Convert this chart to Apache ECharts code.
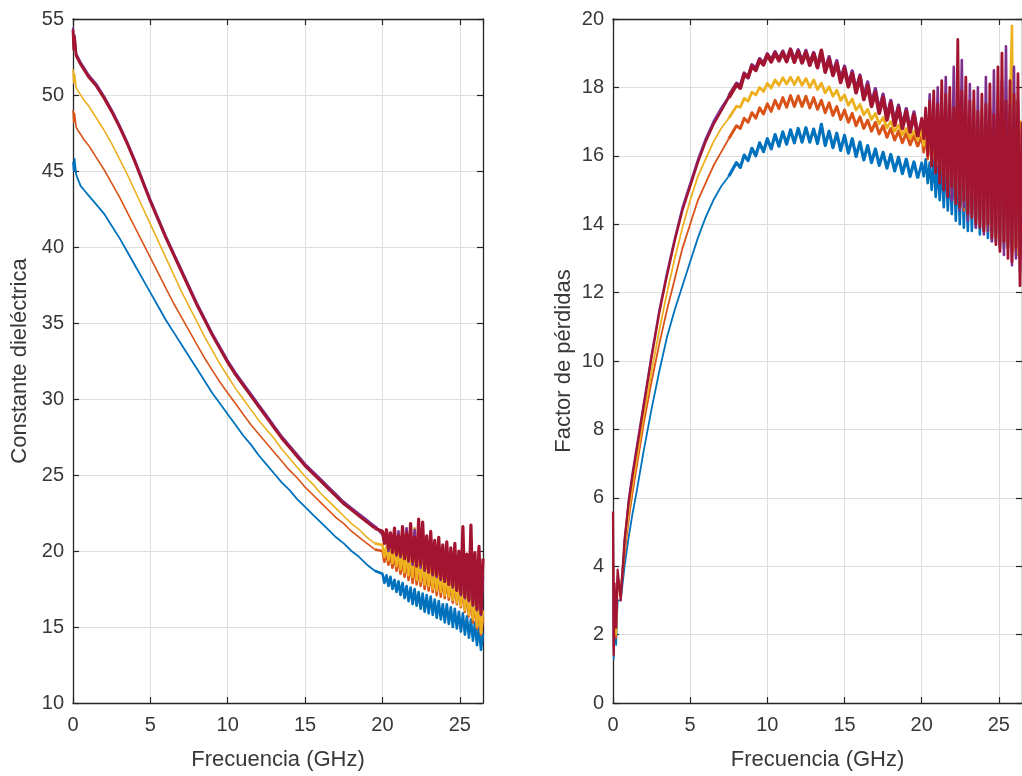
<!DOCTYPE html>
<html><head><meta charset="utf-8">
<script src="https://cdn.jsdelivr.net/npm/echarts@6/dist/echarts.min.js"></script>
<style>html,body{margin:0;padding:0;background:#fff}#c{width:1022px;height:776px}</style>
</head><body><div id="c"></div><script>
// ---------- frequency samples (GHz) ----------
const F_SMOOTH = [0,0.05,0.1,0.2,0.3,0.5,0.75,1,1.25,1.5,2,2.5,3,3.5,4,4.5,5,5.5,6,6.5,7,7.5,8,8.5,9,9.5,10,10.5,11,11.5,12,12.5,13,13.5,14,14.5,15,15.5,16,16.5,17,17.5,18,18.5,19,19.5];
const F_LOW = [0,0.05,0.1,0.2,0.3,0.5,0.75,1,1.25,1.5,2,2.5,3,3.5,4,4.5,5,5.5,6,6.5,7,7.5];
const F_MID = [8,8.25,8.5,8.75,9,9.25,9.5,9.75,10,10.25,10.5,10.75,11,11.25,11.5,11.75,12,12.25,12.5,12.75,13,13.25,13.5,13.75,14,14.25,14.5,14.75,15,15.25,15.5,15.75,16,16.25,16.5,16.75,17,17.25,17.5,17.75,18,18.25,18.5,18.75,19,19.25,19.5,19.75];
const F_NOISY = [20.00,20.13,20.26,20.39,20.52,20.65,20.78,20.91,21.04,21.17,21.30,21.43,21.56,21.69,21.82,21.95,22.08,22.21,22.34,22.47,22.60,22.73,22.86,22.99,23.12,23.25,23.38,23.51,23.64,23.77,23.90,24.03,24.16,24.29,24.42,24.55,24.68,24.81,24.94,25.07,25.20,25.33,25.46,25.59,25.72,25.85,25.98,26.11,26.24,26.37,26.50];

// ---------- tick values ----------
const X_TICKS = [0,5,10,15,20,25];
const Y_LEFT_TICKS = [10,15,20,25,30,35,40,45,50,55];
const Y_RIGHT_TICKS = [0,2,4,6,8,10,12,14,16,18,20];

// ---------- left: Constante dieléctrica ----------
const L_BLUE_S = [45.6,45.0,45.8,44.8,44.5,44.0,43.7,43.4,43.1,42.8,42.2,41.4,40.6,39.7,38.8,37.9,37.0,36.1,35.2,34.4,33.6,32.8,32.0,31.2,30.4,29.7,29.0,28.3,27.6,27.0,26.3,25.7,25.1,24.5,24.0,23.4,22.9,22.4,21.9,21.4,20.9,20.5,20.0,19.6,19.1,18.7];
const L_ORANGE_S = [49.0,48.2,48.8,47.9,47.7,47.4,47.0,46.7,46.3,45.9,45.1,44.2,43.3,42.3,41.3,40.3,39.3,38.3,37.3,36.3,35.4,34.5,33.6,32.7,31.9,31.1,30.4,29.7,29.0,28.3,27.7,27.1,26.5,25.9,25.3,24.8,24.2,23.7,23.2,22.7,22.2,21.8,21.3,20.9,20.5,20.1];
const L_YELLOW_S = [51.7,50.8,51.4,50.5,50.3,50.0,49.6,49.3,48.9,48.5,47.7,46.8,45.8,44.8,43.7,42.6,41.5,40.4,39.3,38.2,37.1,36.1,35.1,34.1,33.2,32.3,31.5,30.7,30.0,29.3,28.6,28.0,27.4,26.7,26.1,25.5,24.9,24.4,23.8,23.3,22.8,22.3,21.8,21.4,20.9,20.5];
const L_PURPLE_S = [54.45,53.15,53.95,52.75,52.55,52.15,51.75,51.35,51.05,50.75,49.95,49.05,48.05,46.95,45.75,44.45,43.15,41.95,40.75,39.65,38.55,37.45,36.35,35.35,34.35,33.45,32.55,31.75,31.05,30.35,29.65,28.95,28.25,27.55,26.95,26.35,25.75,25.25,24.75,24.25,23.75,23.25,22.85,22.45,22.05,21.65];
const L_RED_S = [54.3,53.0,53.8,52.6,52.4,52.0,51.6,51.2,50.9,50.6,49.8,48.9,47.9,46.8,45.6,44.3,43.0,41.8,40.6,39.5,38.4,37.3,36.2,35.2,34.2,33.3,32.4,31.6,30.9,30.2,29.5,28.8,28.1,27.4,26.8,26.2,25.6,25.1,24.6,24.1,23.6,23.1,22.7,22.3,21.9,21.5];

const L_BLUE_N = [18.5,17.9,18.4,17.7,18.3,17.5,18.1,17.3,18.0,17.1,17.9,16.9,17.7,16.7,17.6,16.5,17.5,16.4,17.3,16.2,17.2,16.0,17.1,15.9,17.0,15.8,16.8,15.6,16.7,15.5,16.5,15.3,16.5,15.2,16.3,15.0,16.2,14.9,16.0,14.7,15.9,14.5,15.7,14.3,15.5,14.1,15.3,13.8,15.0,13.5,14.6];
const L_ORANGE_N = [20.0,19.3,19.9,19.1,19.8,18.9,19.7,18.7,19.6,18.5,19.5,18.3,19.4,18.1,19.3,17.9,19.2,17.8,19.0,17.7,18.9,17.5,18.7,17.4,18.6,17.3,18.5,17.1,18.4,17.0,18.3,16.9,18.2,16.8,18.0,16.6,17.9,16.5,17.8,16.3,17.6,16.0,17.3,15.7,17.0,15.3,16.7,14.9,16.2,14.5,15.6];
const L_YELLOW_N = [20.4,19.6,20.3,19.4,20.5,19.2,20.2,19.0,20.1,18.8,20.0,18.6,20.0,18.4,19.8,18.3,21.5,18.1,19.6,18.0,19.5,17.8,19.3,17.7,19.2,17.5,19.0,17.4,18.9,17.3,18.8,17.1,18.7,17.0,18.5,16.8,18.4,16.6,18.2,16.4,18.0,16.1,17.8,15.8,17.5,15.5,17.1,15.0,16.7,14.6,16.1];
const L_PURPLE_N = [21.1,20.7,21.2,20.0,21.0,20.1,21.2,19.7,21.3,19.6,20.9,19.6,21.5,19.3,21.0,19.1,21.4,19.2,20.8,18.9,21.2,18.7,20.6,18.7,20.9,18.4,20.5,18.3,20.4,18.1,20.2,18.0,20.0,17.8,19.9,17.6,19.8,17.4,19.7,17.1,19.6,16.9,19.4,16.7,19.3,16.4,19.1,16.1,18.8,15.8,18.4];
const L_RED_N = [21.3,20.5,21.4,20.2,21.2,19.9,21.5,19.8,21.0,19.7,21.6,19.5,21.2,19.4,21.8,19.3,20.9,19.0,22.1,19.1,21.9,18.8,21.0,18.6,21.3,18.5,20.7,18.4,20.9,18.2,20.4,18.0,20.6,17.8,20.2,17.7,20.5,17.4,20.0,17.2,21.6,17.0,19.8,16.8,21.7,16.5,19.9,16.2,20.3,15.9,19.5];

// ---------- right: Factor de pérdidas ----------
const R_BLUE_L = [4.5,1.3,2.8,1.7,3.0,3.0,4.0,4.8,5.5,6.1,7.4,8.6,9.7,10.7,11.5,12.2,12.9,13.6,14.2,14.7,15.1,15.4];
const R_ORANGE_L = [5.0,1.5,3.0,1.9,3.4,3.2,4.3,5.3,6.1,6.8,8.2,9.4,10.5,11.5,12.4,13.3,14.0,14.7,15.2,15.7,16.1,16.5];
const R_YELLOW_L = [5.2,1.6,3.2,2.0,3.6,3.4,4.5,5.5,6.3,7.0,8.4,9.7,10.9,12.0,13.0,13.9,14.7,15.4,15.9,16.4,16.8,17.1];
const R_PURPLE_L = [5.4,1.6,3.3,2.4,3.7,3.2,4.7,5.9,6.7,7.4,8.8,10.2,11.5,12.6,13.6,14.5,15.2,15.9,16.5,17.0,17.4,17.75];
const R_RED_L = [5.6,1.4,3.5,2.2,3.9,3.0,4.8,5.8,6.6,7.3,8.7,10.1,11.4,12.5,13.5,14.4,15.1,15.8,16.4,16.9,17.3,17.7];

const R_BLUE_M = [15.80,15.66,16.02,15.86,16.22,16.00,16.38,16.12,16.50,16.20,16.62,16.28,16.70,16.34,16.76,16.38,16.80,16.40,16.82,16.40,16.78,16.36,16.92,16.30,16.72,16.24,16.66,16.16,16.60,16.08,16.50,15.98,16.40,15.88,16.30,15.80,16.20,15.72,16.10,15.64,16.04,15.56,15.96,15.48,15.90,15.40,15.82,15.34];
const R_ORANGE_M = [16.88,16.80,17.10,16.98,17.26,17.10,17.40,17.22,17.52,17.30,17.62,17.38,17.70,17.42,17.76,17.44,17.75,17.44,17.74,17.40,17.70,17.36,17.62,17.26,17.55,17.18,17.44,17.06,17.34,16.98,17.24,16.88,17.14,16.80,17.04,16.72,16.98,16.64,16.88,16.54,16.80,16.46,16.72,16.38,16.66,16.32,16.60,16.26];
const R_YELLOW_M = [17.45,17.42,17.68,17.60,17.86,17.78,18.00,17.88,18.12,17.98,18.22,18.06,18.28,18.10,18.30,18.08,18.30,18.06,18.26,18.00,18.22,17.94,18.12,17.84,18.02,17.74,17.92,17.62,17.78,17.48,17.66,17.34,17.50,17.20,17.36,17.06,17.24,16.94,17.12,16.82,17.00,16.72,16.90,16.62,16.80,16.52,16.72,16.45];
const R_PURPLE_M = [18.12,18.05,18.42,18.28,18.66,18.55,18.84,18.70,18.98,18.80,19.04,18.82,19.06,18.80,19.12,18.80,19.10,18.76,19.08,18.70,19.02,18.62,18.98,18.52,18.90,18.40,18.78,18.22,18.62,18.08,18.48,17.92,18.36,17.72,18.16,17.52,17.96,17.32,17.80,17.12,17.62,16.98,17.48,16.86,17.38,16.76,17.28,16.62];
const R_RED_M = [18.08,17.98,18.38,18.30,18.62,18.50,18.80,18.66,18.95,18.75,19.00,18.78,19.02,18.76,19.10,18.74,19.05,18.72,19.02,18.65,18.98,18.58,19.08,18.45,18.82,18.35,18.70,18.15,18.55,18.02,18.40,17.85,18.30,17.65,18.05,17.45,17.85,17.25,17.70,17.05,17.55,16.90,17.40,16.80,17.30,16.70,17.20,16.55];

const R_BLUE_N = [15.8,15.4,15.9,15.2,15.8,15.0,15.9,14.8,15.7,14.7,15.8,14.5,15.9,14.4,15.6,14.3,16.0,14.1,15.7,14.0,16.1,13.9,15.8,13.8,16.2,13.8,15.9,13.9,16.4,13.7,16.0,13.8,16.6,13.6,16.2,13.5,16.8,13.5,16.4,13.4,17.0,13.3,16.6,13.3,17.2,13.2,16.8,13.2,17.4,13.1,16.4];
const R_ORANGE_N = [16.6,16.1,16.7,15.9,16.8,15.7,16.9,15.5,17.0,15.3,16.9,15.1,17.1,14.9,17.0,14.8,17.2,14.6,17.0,14.5,17.1,14.4,17.0,14.3,17.2,14.2,16.9,14.1,17.1,14.0,16.9,13.9,17.0,13.8,16.8,13.7,17.0,13.6,16.8,13.5,17.1,13.4,16.9,13.3,17.0,13.2,16.8,13.1,17.2,13.0,16.5];
const R_YELLOW_N = [16.8,16.3,16.9,16.0,17.0,15.8,17.1,15.6,17.2,15.4,17.0,15.2,17.4,15.0,17.1,14.9,17.6,14.8,17.3,14.6,17.5,14.5,17.4,14.4,17.2,14.3,17.6,14.1,17.1,14.0,17.4,13.9,17.0,13.8,17.5,13.7,17.2,13.6,17.8,13.5,17.3,13.4,18.0,13.3,17.4,19.8,13.2,17.6,13.1,17.0,13.4];
const R_PURPLE_N = [17.0,16.7,17.2,16.2,17.8,15.9,17.5,15.6,18.0,15.3,17.6,15.1,18.3,15.0,17.5,14.7,18.6,14.9,17.7,14.4,18.8,14.5,17.6,14.1,18.1,14.3,17.4,13.9,18.0,14.1,17.2,13.7,18.3,13.8,17.4,13.5,18.5,13.7,17.3,13.3,18.2,13.1,19.2,13.4,17.5,12.8,18.6,13.0,17.6,12.6,16.8];
const R_RED_N = [17.1,16.5,17.4,16.0,17.6,15.7,17.9,15.5,17.5,15.2,18.2,15.0,17.8,14.8,18.0,15.1,17.4,14.6,19.4,14.5,17.9,14.7,18.3,14.3,17.6,14.2,17.9,14.0,17.3,13.9,17.8,13.8,17.5,14.0,18.1,13.6,17.2,13.4,18.6,13.2,19.0,13.5,17.6,13.0,18.2,12.9,17.8,13.3,18.4,12.2,17.0];

// ---------- build ----------
function pairs(xs, ys){ return xs.map((x,i)=>[x, ys[i]]); }
const COLORS = {blue:'#0072BD', orange:'#D95319', yellow:'#EDB120', purple:'#7E2F8E', red:'#A2142F'};

// [colour, [[freqs, values, lineWidth], ...segments]]
const LEFT = [
  ['blue',   [[F_SMOOTH, L_BLUE_S, 1.8],   [F_NOISY, L_BLUE_N, 2.6]]],
  ['orange', [[F_SMOOTH, L_ORANGE_S, 1.6], [F_NOISY, L_ORANGE_N, 2.6]]],
  ['yellow', [[F_SMOOTH, L_YELLOW_S, 1.6], [F_NOISY, L_YELLOW_N, 2.6]]],
  ['purple', [[F_SMOOTH, L_PURPLE_S, 2],   [F_NOISY, L_PURPLE_N, 2.6]]],
  ['red',    [[F_SMOOTH, L_RED_S, 2.8],    [F_NOISY, L_RED_N, 3.2]]]
];
const RIGHT = [
  ['blue',   [[F_LOW, R_BLUE_L, 1.8],   [F_MID, R_BLUE_M, 3.2],   [F_NOISY, R_BLUE_N, 2.6]]],
  ['orange', [[F_LOW, R_ORANGE_L, 1.8], [F_MID, R_ORANGE_M, 3.0], [F_NOISY, R_ORANGE_N, 2.6]]],
  ['yellow', [[F_LOW, R_YELLOW_L, 1.8], [F_MID, R_YELLOW_M, 2.8], [F_NOISY, R_YELLOW_N, 2.6]]],
  ['purple', [[F_LOW, R_PURPLE_L, 2.0], [F_MID, R_PURPLE_M, 3.4], [F_NOISY, R_PURPLE_N, 2.6]]],
  ['red',    [[F_LOW, R_RED_L, 2.2],    [F_MID, R_RED_M, 3.8],    [F_NOISY, R_RED_N, 2.8]]]
];

const series = [];
function addSeries(list, xi, yi){
  list.forEach(([c, segs])=>{
    let prev = null;
    segs.forEach(([xs, ys, w])=>{
      const data = pairs(xs, ys);
      if (prev) data.unshift(prev);
      prev = data[data.length-1];
      series.push({type:'line', xAxisIndex:xi, yAxisIndex:yi, data:data,
        showSymbol:false, symbol:'none', silent:true,
        lineStyle:{color:COLORS[c], width:w, join:'round'}, itemStyle:{color:COLORS[c]}});
    });
  });
}
addSeries(LEFT, 0, 0);
addSeries(RIGHT, 2, 2);

const AX = '#262626';
const TXT = '#383838';
const FONT = 'Liberation Sans, Arial, Helvetica, sans-serif';
function mainX(gi){
  return {gridIndex:gi, type:'value', min:0, max:26.5, interval:5, position:'bottom',
    axisLine:{show:true, onZero:false, lineStyle:{color:AX, width:1.3}},
    axisTick:{show:true, inside:true, length:6, lineStyle:{color:AX, width:1.2}},
    axisLabel:{fontSize:20, color:TXT, fontFamily:FONT, margin:12, showMaxLabel:false,
      formatter:v=>X_TICKS.includes(v)?String(v):''},
    splitLine:{show:true, lineStyle:{color:'#dedede', width:1}},
    name:'Frecuencia (GHz)', nameLocation:'middle', nameGap:46,
    nameTextStyle:{fontSize:22, color:TXT, fontFamily:FONT}};
}
function topX(gi){
  return {gridIndex:gi, type:'value', min:0, max:26.5, interval:5, position:'top',
    axisLine:{show:true, onZero:false, lineStyle:{color:AX, width:1.3}},
    axisTick:{show:true, inside:true, length:6, lineStyle:{color:AX, width:1.2}},
    axisLabel:{show:false}, splitLine:{show:false}};
}
function mainY(gi, min, max, interval, ticks, name, gap){
  return {gridIndex:gi, type:'value', min:min, max:max, interval:interval, position:'left',
    axisLine:{show:true, onZero:false, lineStyle:{color:AX, width:1.3}},
    axisTick:{show:true, inside:true, length:6, lineStyle:{color:AX, width:1.2}},
    axisLabel:{fontSize:20, color:TXT, fontFamily:FONT, margin:9,
      formatter:v=>ticks.includes(v)?String(v):''},
    splitLine:{show:true, lineStyle:{color:'#dedede', width:1}},
    name:name, nameLocation:'middle', nameGap:gap,
    nameTextStyle:{fontSize:22, color:TXT, fontFamily:FONT}};
}
function rightY(gi, min, max, interval){
  return {gridIndex:gi, type:'value', min:min, max:max, interval:interval, position:'right',
    axisLine:{show:true, onZero:false, lineStyle:{color:AX, width:1.3}},
    axisTick:{show:true, inside:true, length:6, lineStyle:{color:AX, width:1.2}},
    axisLabel:{show:false}, splitLine:{show:false}};
}

const chart = echarts.init(document.getElementById('c'), null, {renderer:'canvas'});
chart.setOption({
  animation:false,
  backgroundColor:'#ffffff',
  grid:[
    {left:73, top:19, width:410, height:685},
    {left:613, top:19, width:410, height:686}
  ],
  xAxis:[mainX(0), topX(0), mainX(1), topX(1)],
  yAxis:[
    mainY(0, 10, 55, 5, Y_LEFT_TICKS, 'Constante dieléctrica', 42), rightY(0, 10, 55, 5),
    mainY(1, 0, 20, 2, Y_RIGHT_TICKS, 'Factor de pérdidas', 38), rightY(1, 0, 20, 2)
  ],
  series:series
});
</script></body></html>
